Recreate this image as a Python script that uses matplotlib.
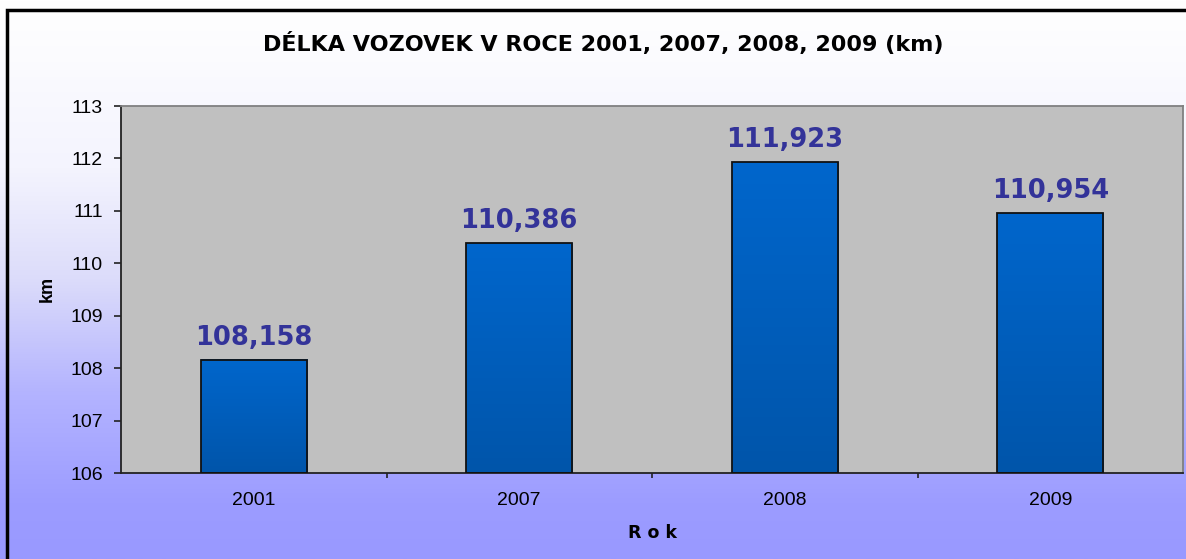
import numpy as np
import matplotlib.pyplot as plt
from matplotlib.patches import Rectangle
from matplotlib.colors import LinearSegmentedColormap

# data
years = ["2001", "2007", "2008", "2009"]
lengths = [108.158, 110.386, 111.923, 110.954]
labels = ["108,158", "110,386", "111,923", "110,954"]
y_ticks = [106, 107, 108, 109, 110, 111, 112, 113]

plt.rcParams["font.family"] = ["Liberation Sans", "DejaVu Sans"]
BOLD = ["DejaVu Sans"]

W, H = 1186, 559
fig = plt.figure(figsize=(W / 100, H / 100), dpi=100)

# background gradient (white -> periwinkle)
bg = fig.add_axes([0, 0, 1, 1], zorder=-10)
bg_cmap = LinearSegmentedColormap.from_list(
    "bg", [(0, "#ffffff"), (0.3, "#f4f4fe"), (0.5, "#dcdcfa"),
           (0.7, "#b4b4ff"), (0.9, "#9c9cff"), (1, "#9999ff")])
bg.imshow(np.linspace(0, 1, 256).reshape(-1, 1), aspect="auto", cmap=bg_cmap,
          extent=[0, 1, 0, 1], origin="upper")
bg.set_axis_off()
# outer chart border (runs off the right and bottom)
fig.patches.append(Rectangle((7 / W, -0.05), 1.2, (H - 10) / H + 0.05,
                             transform=fig.transFigure, fill=False,
                             edgecolor="black", linewidth=2.5, zorder=5))

ax = fig.add_axes([121 / W, 1 - 473 / H, (1183 - 121) / W, (473 - 106) / H])
ax.set_facecolor("#c0c0c0")

x = np.arange(len(years))
bar_w = 0.40
bar_cmap = LinearSegmentedColormap.from_list("bar", ["#0055aa", "#0066cc"])
grad = np.linspace(0, 1, 100).reshape(-1, 1)
for xi, v, lab in zip(x, lengths, labels):
    ax.imshow(grad, cmap=bar_cmap, aspect="auto", origin="lower",
              extent=[xi - bar_w / 2, xi + bar_w / 2, 106, v], zorder=2)
    ax.add_patch(Rectangle((xi - bar_w / 2, 106), bar_w, v - 106, fill=False,
                           edgecolor="#111111", linewidth=1.3, zorder=3))
    ax.annotate(lab, (xi, v), xytext=(0, 11), textcoords="offset points",
                ha="center", va="baseline", fontsize=18.5, fontweight="bold",
                family=BOLD, color="#333399", zorder=4)
ax.set_xlim(-0.5, len(years) - 0.5)
ax.set_ylim(106, 113)

ax.set_xticks(x)
ax.set_xticklabels(years, fontsize=14)
ax.set_xticks(np.arange(0.5, len(years) - 0.5, 1), minor=True)
ax.tick_params(axis="x", which="major", length=0, pad=14)
ax.tick_params(axis="x", which="minor", length=3.6, width=1.2, color="#222222")
ax.set_yticks(y_ticks)
ax.tick_params(axis="y", length=5, width=1.2, labelsize=14, pad=8, color="#222222")

for side in ["left", "bottom"]:
    ax.spines[side].set_color("#222222")
    ax.spines[side].set_linewidth(1.3)
for side in ["top", "right"]:
    ax.spines[side].set_color("#808080")
    ax.spines[side].set_linewidth(1.3)

# axis titles and chart title
fig.text(52 / W, 1 - 289 / H, "km", rotation=90, rotation_mode="anchor",
         ha="center", va="baseline", fontsize=13, fontweight="bold")
fig.text(652 / W, 1 - 538 / H, "R o k", ha="center", va="baseline",
         fontsize=12.5, fontweight="bold", family=BOLD)
fig.text(603 / W, 1 - 51 / H, "DÉLKA VOZOVEK V ROCE 2001, 2007, 2008, 2009 (km)",
         ha="center", va="baseline", fontsize=16, fontweight="bold", family=BOLD)

plt.savefig("out.png", dpi=100)
